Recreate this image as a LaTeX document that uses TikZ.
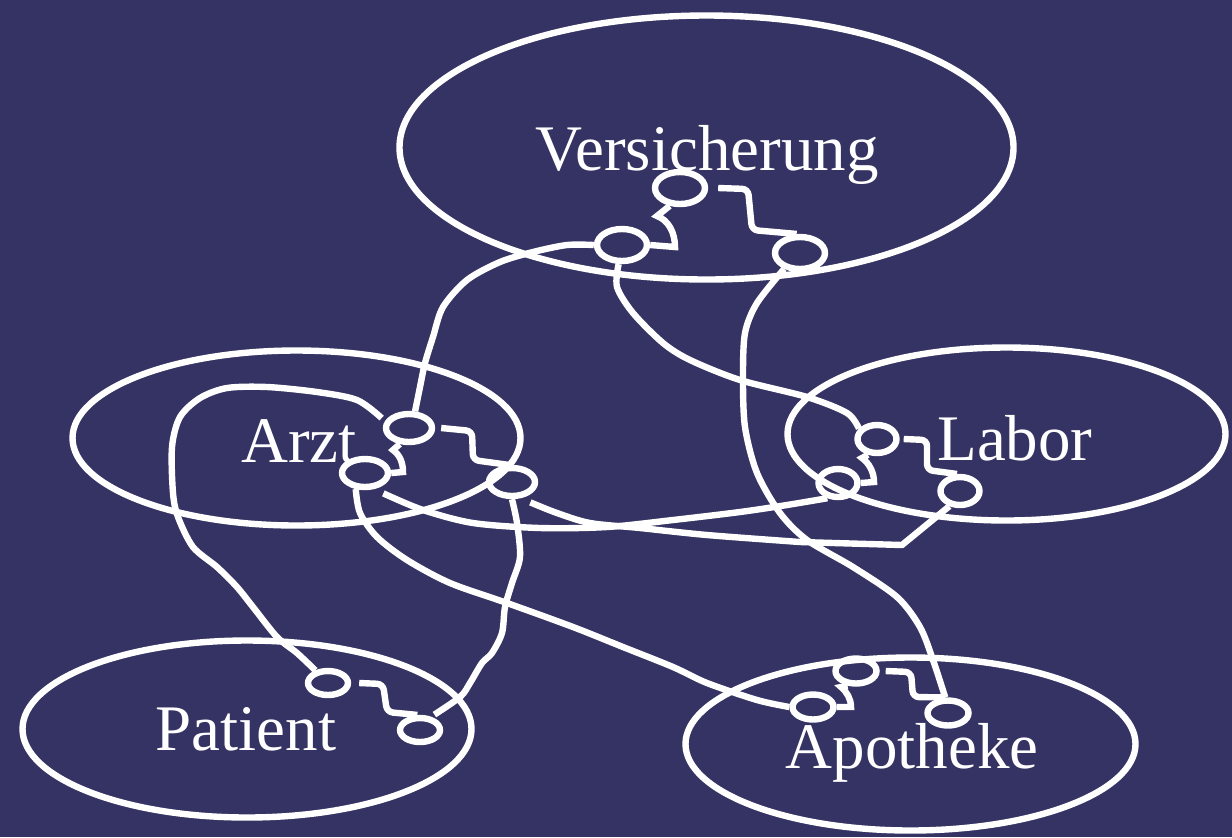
\documentclass[tikz,border=0pt]{standalone}
\usepackage{fontspec}
\setmainfont{Liberation Serif}
\usetikzlibrary{shapes.geometric}
\definecolor{bgblue}{RGB}{53,51,99}

\begin{document}
\begin{tikzpicture}[
    x=0.5pt, y=-0.5pt,
    font=\fontsize{32.5}{38}\selectfont
]
\tikzset{
    place/.style = {ellipse, draw=white, line width=3.2pt, inner sep=0pt},
    port/.style = {ellipse, draw=white, line width=3.2pt, inner sep=0pt},
    wire/.style = {-, draw=white, line width=3.2pt},
    bridge/.style = {wire, rounded corners=3pt},
    lbl/.style = {text=white, anchor=base, inner sep=0pt}
}
\useasboundingbox (0,0) rectangle (1232,837);
\fill[bgblue] (0,0) rectangle (1232,837);

% places
\node[place, minimum width=307pt, minimum height=132pt] at (706.5,147.5) (vers) {};
\node[place, minimum width=224pt, minimum height=87.5pt] at (296.5,438) (arzt) {};
\node[place, minimum width=219pt, minimum height=86.5pt] at (1006.5,434) (labor) {};
\node[place, minimum width=224.5pt, minimum height=88.5pt] at (247,729) (pat) {};
\node[place, minimum width=225pt, minimum height=86.5pt] at (910.5,744) (apo) {};
\node[lbl] at (707,170) (versname) {Versicherung};
\node[lbl] at (299,462) (arztname) {Arzt};
\node[lbl] at (1015,460) (laborname) {Labor};
\node[lbl] at (246,750) (patname) {Patient};
\node[lbl] at (912,768) (aponame) {Apotheke};

% ports
\node[port, minimum width=25pt, minimum height=16pt] at (680,188) (versT) {};
\node[port, minimum width=25pt, minimum height=16pt] at (622,245) (versL) {};
\node[port, minimum width=25pt, minimum height=16pt] at (800,253) (versR) {};
\node[port, minimum width=23pt, minimum height=14pt] at (409,428) (arztT) {};
\node[port, minimum width=23pt, minimum height=14pt] at (365,473) (arztL) {};
\node[port, minimum width=23pt, minimum height=14pt] at (512,482) (arztR) {};
\node[port, minimum width=19.5pt, minimum height=14pt] at (877,439) (laborT) {};
\node[port, minimum width=19.5pt, minimum height=14pt] at (838,483) (laborL) {};
\node[port, minimum width=19.5pt, minimum height=14pt] at (960,491) (laborR) {};
\node[port, minimum width=20pt, minimum height=12pt] at (328,683) (pat1) {};
\node[port, minimum width=20pt, minimum height=12pt] at (420,730) (pat2) {};
\node[port, minimum width=20.5pt, minimum height=12.5pt] at (856,671) (apoT) {};
\node[port, minimum width=20.5pt, minimum height=12.5pt] at (813,707) (apoL) {};
\node[port, minimum width=20.5pt, minimum height=12.5pt] at (948,713) (apoR) {};

% inner links
\draw[wire] (versT.-120) -- (657,216) .. controls (668,220) and (675,232) .. (675,247) -- (versL.east);
\draw[wire] (arztT.-120) -- (393,450) .. controls (400,455) and (403,463) .. (403,472) -- (arztL.east);
\draw[wire] (laborT.-120) -- (862,458) .. controls (869,463) and (874,472) .. (874,482) -- (laborL.east);
\draw[wire] (apoT.-120) -- (841,687) .. controls (847,692) and (851,699) .. (851,707) -- (apoL.east);
\draw[bridge] ([xshift=5pt]versT.east) -- (748,189) -- (752,230) -- (versR.100);
\draw[bridge] ([xshift=3pt]arztT.east) -- (472,431) -- (473,460) -- (arztR.100);
\draw[bridge] ([xshift=2pt]laborT.east) -- (927,440) -- (927,470) -- (laborR.100);
\draw[bridge] ([xshift=4pt]pat1.east) -- (383,684) -- (387,712) -- (pat2.100);
\draw[bridge] ([xshift=3pt]apoT.east) -- (911,672) -- (913,697) -- (apoR.100);

% long links
\draw[wire] plot[smooth] coordinates {(versL.west) (567,245) (533,252) (500,262) (467,280)
    (443,307) (433,337) (425,363) (420,387) (arztT.70)};
\draw[wire] plot[smooth] coordinates {(versL.-100) (617,287) (633,313) (663,343) (690,360)
    (740,380) (807,397) (847,413) (laborT.150)};
\draw[wire] plot[smooth] coordinates {(versR.-135) (757,303) (745,333) (743,377) (745,427)
    (757,473) (780,513) (807,540) (853,567) (897,597) (920,627) (933,660) (apoR.100)};
\draw[wire] plot[smooth] coordinates {(arztL.-120) (360,513) (377,537) (407,560) (450,583)
    (507,603) (573,627) (623,647) (673,667) (707,683) (757,700) (apoL.west)};
\draw[wire] plot[smooth] coordinates {([shift={(2pt,-3pt)}]arztL.-45) (423,510) (473,523) (540,528)
    (607,527) (673,520) (740,512) (787,505) (laborL.-125)};
\draw[wire] plot[smooth] coordinates {([shift={(2pt,-3pt)}]arztR.-45) (557,513) (590,523) (640,528)
    (707,535) (800,542)} -- (902,545) -- (laborR.-125);
\draw[wire, shorten >=2pt] plot[smooth] coordinates {(arztR.south) (517,523) (520,557) (512,583)
    (505,607) (502,633) (492,653) (482,663) (470,683) (460,697) (pat2.50)};
\draw[wire] plot[smooth] coordinates {([xshift=-3pt]arztT.155) (357,400) (317,392) (267,387)
    (227,388) (200,398) (180,417) (172,447) (173,493) (178,517) (193,547) (217,567) (237,587)
    (253,607) (277,637) (297,653) (pat1.135)};
\end{tikzpicture}
\end{document}
